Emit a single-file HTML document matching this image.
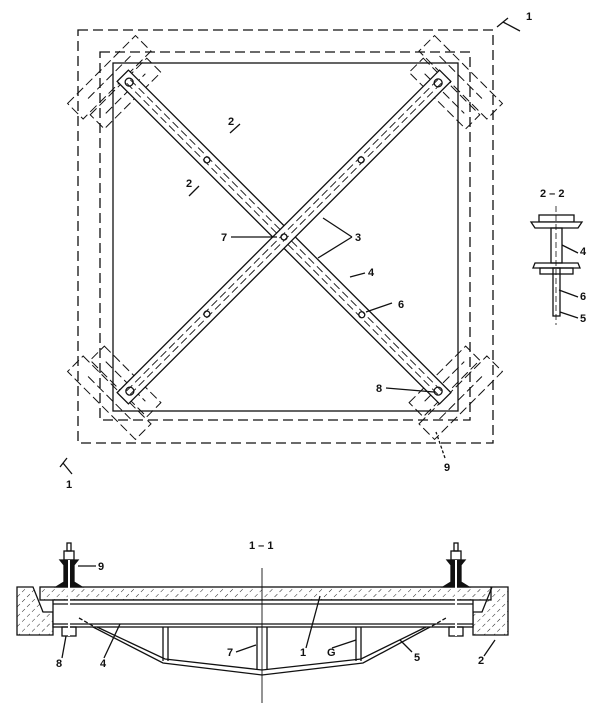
<!DOCTYPE html>
<html><head><meta charset="utf-8"><style>
html,body{margin:0;padding:0;background:#fff}
svg{display:block}
text{font-family:"Liberation Sans",sans-serif;font-weight:bold;font-size:11px;fill:#111}
</style></head><body>
<svg width="605" height="714" viewBox="0 0 605 714" xmlns="http://www.w3.org/2000/svg">
<defs>
<pattern id="h" width="7" height="7" patternUnits="userSpaceOnUse" patternTransform="rotate(45)">
<line x1="0" y1="0" x2="0" y2="4" stroke="#222" stroke-width="1"/>
</pattern>
</defs>
<g fill="none" stroke="#111" stroke-width="1.3">
<rect x="78" y="30" width="415" height="413" stroke-dasharray="10,5"/>
<rect x="100" y="52" width="370" height="368" stroke-dasharray="10,5"/>
<rect x="113" y="63" width="345" height="348"/>
<g stroke-dasharray="9,4" stroke-width="1">
<g transform="translate(110,78) rotate(-45)"><rect x="-48" y="-12" width="96" height="22"/><rect x="-40" y="12" width="80" height="20"/><line x1="-30" y1="-1" x2="30" y2="-1"/><line x1="-28" y1="22" x2="28" y2="22"/></g>
<g transform="translate(460,78) rotate(45)"><rect x="-48" y="-12" width="96" height="22"/><rect x="-40" y="12" width="80" height="20"/><line x1="-30" y1="-1" x2="30" y2="-1"/><line x1="-28" y1="22" x2="28" y2="22"/></g>
<g transform="translate(110,397) rotate(45)"><rect x="-48" y="-10" width="96" height="22"/><rect x="-40" y="-32" width="80" height="20"/><line x1="-30" y1="1" x2="30" y2="1"/><line x1="-28" y1="-22" x2="28" y2="-22"/></g>
<g transform="translate(460,397) rotate(-45)"><rect x="-48" y="-10" width="96" height="22"/><rect x="-40" y="-32" width="80" height="20"/><line x1="-30" y1="1" x2="30" y2="1"/><line x1="-28" y1="-22" x2="28" y2="-22"/></g>
</g>
<g transform="translate(284,237) rotate(45)">
<rect x="-228" y="-8" width="456" height="16" fill="#fff"/>
<line x1="-220" y1="-2.5" x2="220" y2="-2.5" stroke-dasharray="8,4" stroke-width="0.9"/>
<line x1="-220" y1="2.5" x2="220" y2="2.5" stroke-dasharray="8,4" stroke-width="0.9"/>
<circle cx="-219" cy="0" r="4"/><circle cx="218" cy="0" r="4"/>
<circle cx="-109" cy="0" r="3"/><circle cx="110" cy="0" r="3"/>
</g>
<g transform="translate(284,237) rotate(-45)">
<rect x="-228" y="-8" width="456" height="16" fill="#fff"/>
<line x1="-220" y1="-2.5" x2="220" y2="-2.5" stroke-dasharray="8,4" stroke-width="0.9"/>
<line x1="-220" y1="2.5" x2="220" y2="2.5" stroke-dasharray="8,4" stroke-width="0.9"/>
<circle cx="-218" cy="0" r="4"/><circle cx="218" cy="0" r="4"/>
<circle cx="-109" cy="0" r="3"/><circle cx="109" cy="0" r="3"/>
<circle cx="0" cy="0" r="3"/>
</g>
<path d="M497 27 L508 18 M503 22 L520 31"/>
<path d="M60 467 L67 458 M63 463 L72 474"/>
<path d="M230 133 L240 124 M189 196 L199 186"/>
<path d="M231 237 L277 237"/>
<path d="M352 237 L323 218 M352 237 L318 258"/>
<path d="M365 273 L350 277"/>
<path d="M392 303 L366 312"/>
<path d="M386 388 L434 392"/>
<path d="M445 458 L436 432" stroke-dasharray="3,2"/>
<rect x="539" y="215" width="35" height="7"/>
<path d="M531 222 L582 222 L578 228 L535 228 Z" fill="#fff"/>
<rect x="551" y="228" width="11" height="35"/>
<path d="M535 263 L578 263 L580 268 L533 268 Z"/>
<rect x="540" y="268" width="33" height="6"/>
<rect x="553" y="268" width="7" height="48"/>
<line x1="556" y1="206" x2="556" y2="325" stroke-dasharray="6,3" stroke-width="0.8"/>
<path d="M562 245 L578 253 M559 290 L578 297 M560 312 L578 318"/>
<rect x="40" y="587" width="451" height="13" fill="url(#h)"/>
<path d="M17 587 L33 587 L43 612 L53 612 L53 635 L17 635 Z" fill="url(#h)"/>
<path d="M508 587 L492 587 L482 612 L473 612 L473 635 L508 635 Z" fill="url(#h)"/>
<rect x="53" y="600" width="420" height="27" fill="#fff"/>
<line x1="53" y1="604" x2="473" y2="604"/>
<line x1="53" y1="624" x2="473" y2="624"/>
<path d="M93 627 L163 663 L262 675 L363 663 L430 627"/>
<path d="M97 627 L165 659 L262 670 L361 659 L426 627"/>
<line x1="163" y1="627" x2="163" y2="661"/><line x1="168" y1="627" x2="168" y2="661"/>
<line x1="356" y1="627" x2="356" y2="661"/><line x1="361" y1="627" x2="361" y2="661"/>
<line x1="257" y1="627" x2="257" y2="670"/><line x1="267" y1="627" x2="267" y2="670"/>
<line x1="262" y1="568" x2="262" y2="703" stroke-width="0.9"/>
<rect x="62" y="627" width="14" height="9"/><rect x="449" y="627" width="14" height="9"/>
<path d="M79 618 L93 626 M432 626 L446 618" stroke-dasharray="4,2"/>
<path d="M60 560 L78 560 L74 565 L74 582 L82 587 L56 587 L64 582 L64 565 Z" fill="#111"/>
<rect x="64" y="551" width="10" height="9"/><rect x="67" y="543" width="4" height="8"/>
<path d="M447 560 L465 560 L461 565 L461 582 L469 587 L443 587 L451 582 L451 565 Z" fill="#111"/>
<rect x="451" y="551" width="10" height="9"/><rect x="454" y="543" width="4" height="8"/>
<line x1="69" y1="560" x2="69" y2="636" stroke="#fff" stroke-width="2"/>
<line x1="456" y1="560" x2="456" y2="636" stroke="#fff" stroke-width="2"/>
<path d="M78 566 L96 566 M62 658 L66 636 M104 658 L120 624 M236 652 L256 645 M306 648 L320 596 M332 648 L356 640 M412 652 L400 640 M484 656 L495 640"/>
</g>
<g>
<text x="526" y="20">1</text>
<text x="228" y="125">2</text>
<text x="186" y="187">2</text>
<text x="221" y="241">7</text>
<text x="355" y="241">3</text>
<text x="368" y="276">4</text>
<text x="398" y="308">6</text>
<text x="376" y="392">8</text>
<text x="444" y="471">9</text>
<text x="66" y="488">1</text>
<text x="540" y="197">2 – 2</text>
<text x="580" y="255">4</text>
<text x="580" y="300">6</text>
<text x="580" y="322">5</text>
<text x="249" y="549">1 – 1</text>
<text x="98" y="570">9</text>
<text x="56" y="667">8</text>
<text x="100" y="667">4</text>
<text x="227" y="656">7</text>
<text x="300" y="656">1</text>
<text x="327" y="656">G</text>
<text x="414" y="661">5</text>
<text x="478" y="664">2</text>
</g>
</svg>
</body></html>
